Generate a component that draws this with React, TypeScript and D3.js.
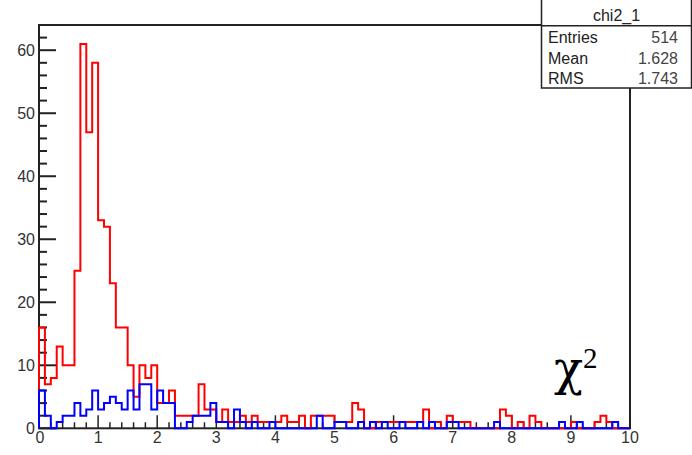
import React, { useRef, useEffect } from "react";
import * as d3 from "d3";

// bin width 0.1, 100 bins from 0 to 10
const redCounts = [
  16, 7, 8, 13, 10, 10, 25, 61, 47, 58,
  33, 32, 23, 16, 16, 10, 5, 10, 8, 10,
  4, 4, 6, 2, 2, 2, 2, 7, 3, 3,
  1, 3, 1, 1, 2, 1, 2, 1, 1, 1,
  1, 2, 1, 1, 2, 0, 2, 2, 2, 2,
  1, 1, 1, 4, 3, 0, 0, 1, 1, 1,
  1, 1, 1, 1, 1, 3, 0, 1, 0, 2,
  1, 1, 1, 0, 0, 0, 0, 0, 3, 2,
  0, 1, 0, 2, 1, 0, 0, 0, 0, 0,
  1, 0, 0, 0, 1, 2, 1, 0, 0, 0,
];
const blueCounts = [
  6, 2, 0, 1, 2, 2, 4, 2, 3, 6,
  3, 4, 5, 4, 3, 6, 3, 7, 7, 3,
  6, 4, 4, 0, 0, 1, 2, 2, 2, 4,
  1, 1, 0, 3, 1, 0, 1, 0, 0, 1,
  0, 0, 0, 0, 0, 0, 0, 2, 0, 0,
  1, 1, 0, 0, 1, 0, 1, 0, 1, 0,
  0, 1, 0, 0, 1, 0, 1, 0, 0, 1,
  1, 0, 0, 0, 0, 0, 0, 1, 0, 0,
  0, 0, 0, 0, 0, 0, 0, 0, 1, 0,
  0, 1, 0, 0, 0, 0, 0, 1, 0, 0,
];
const xTicks = [0, 1, 2, 3, 4, 5, 6, 7, 8, 9, 10];
const yTicks = [0, 10, 20, 30, 40, 50, 60];
const statsTitle = "chi2_1";
const statsRows = [
  ["Entries", "514"],
  ["Mean", "1.628"],
  ["RMS", "1.743"],
];

const W = 692;
const H = 455;
const binW = 0.1;

export default function App() {
  const svgRef = useRef(null);

  useEffect(() => {
    const svg = d3.select(svgRef.current);
    svg.selectAll("*").remove();

    const x = d3.scaleLinear().domain([0, 10]).range([39, 630]);
    const y = d3.scaleLinear().domain([0, 64]).range([428.3, 25]);

    const step = d3
      .line<[number, number]>()
      .x((d) => x(d[0]))
      .y((d) => y(d[1]))
      .curve(d3.curveStepAfter);

    const pts = (counts: number[]) => {
      const p: [number, number][] = [[0, 0]];
      counts.forEach((c, i) => p.push([i * binW, c]));
      p.push([10, counts[counts.length - 1]]);
      p.push([10, 0]);
      return p;
    };

    // frame
    svg.append("rect")
      .attr("x", x(0))
      .attr("y", y(64))
      .attr("width", x(10) - x(0))
      .attr("height", y(0) - y(64))
      .attr("fill", "none")
      .attr("stroke", "#222")
      .attr("stroke-width", 2);

    // y axis ticks
    const yMinor = d3.range(0, 64.01, 2);
    svg.append("g")
      .selectAll("line")
      .data(yMinor)
      .join("line")
      .attr("x1", x(0))
      .attr("x2", (d) => x(0) + (d % 10 === 0 ? 17 : 8))
      .attr("y1", (d) => y(d))
      .attr("y2", (d) => y(d))
      .attr("stroke", "#222")
      .attr("stroke-width", 2);

    svg.append("g")
      .selectAll("text")
      .data(yTicks)
      .join("text")
      .attr("x", 35)
      .attr("y", (d) => y(d) + 6)
      .attr("text-anchor", "end")
      .attr("font-family", "Liberation Sans, Arial, sans-serif")
      .attr("font-size", 16)
      .attr("fill", "#333")
      .text((d) => d);

    // x axis ticks
    const xMinor = d3.range(0, 10.001, 0.2);
    svg.append("g")
      .selectAll("line")
      .data(xMinor)
      .join("line")
      .attr("x1", (d) => x(d))
      .attr("x2", (d) => x(d))
      .attr("y1", y(0))
      .attr("y2", (d) => y(0) - (Math.abs(d - Math.round(d)) < 1e-6 ? 13 : 6))
      .attr("stroke", "#222")
      .attr("stroke-width", 1.5);

    svg.append("g")
      .selectAll("text")
      .data(xTicks)
      .join("text")
      .attr("x", (d) => x(d) + (d === 0 ? 1 : 0))
      .attr("y", 443)
      .attr("text-anchor", "middle")
      .attr("font-family", "Liberation Sans, Arial, sans-serif")
      .attr("font-size", 16)
      .attr("fill", "#333")
      .text((d) => d);

    // histograms
    svg.append("path")
      .attr("d", step(pts(redCounts)))
      .attr("fill", "none")
      .attr("stroke", "#ff0000")
      .attr("stroke-width", 2);

    svg.append("path")
      .attr("d", step(pts(blueCounts)))
      .attr("fill", "none")
      .attr("stroke", "#0000ff")
      .attr("stroke-width", 2);

    // chi^2 label
    const lab = svg.append("text")
      .attr("x", 554)
      .attr("y", 385)
      .attr("font-family", "Liberation Serif, Times New Roman, serif")
      .attr("font-size", 44)
      .attr("fill", "#000");
    lab.append("tspan")
      .attr("font-family", "DejaVu Serif, serif")
      .attr("font-size", 48)
      .text("χ");
    lab.append("tspan")
      .attr("dx", 0)
      .attr("dy", -17)
      .attr("font-size", 29)
      .text("2");

    // stats box
    const bx = 541.5, bw = 150, bh = 88;
    const stats = svg.append("g");
    stats.append("rect")
      .attr("x", bx)
      .attr("y", -2)
      .attr("width", bw)
      .attr("height", bh + 2)
      .attr("fill", "#fff")
      .attr("stroke", "#222")
      .attr("stroke-width", 1.5);
    stats.append("line")
      .attr("x1", bx)
      .attr("x2", bx + bw)
      .attr("y1", 25.7)
      .attr("y2", 25.7)
      .attr("stroke", "#222")
      .attr("stroke-width", 1.5);
    stats.append("text")
      .attr("x", bx + bw / 2)
      .attr("y", 21)
      .attr("text-anchor", "middle")
      .attr("font-family", "Liberation Sans, Arial, sans-serif")
      .attr("font-size", 16)
      .attr("fill", "#222")
      .text(statsTitle);
    statsRows.forEach((r, i) => {
      const yy = 43 + i * 20.5;
      stats.append("text")
        .attr("x", 548)
        .attr("y", yy)
        .attr("font-family", "Liberation Sans, Arial, sans-serif")
        .attr("font-size", 16)
        .attr("fill", "#222")
        .text(r[0]);
      stats.append("text")
        .attr("x", 678)
        .attr("y", yy)
        .attr("text-anchor", "end")
        .attr("font-family", "Liberation Sans, Arial, sans-serif")
        .attr("font-size", 16)
        .attr("fill", "#444")
        .text(r[1]);
    });
  }, []);

  return (
    <div style={{ position: "absolute", left: 0, top: 0 }}>
      <svg ref={svgRef} width={W} height={H} style={{ display: "block", background: "#fff" }} />
    </div>
  );
}
